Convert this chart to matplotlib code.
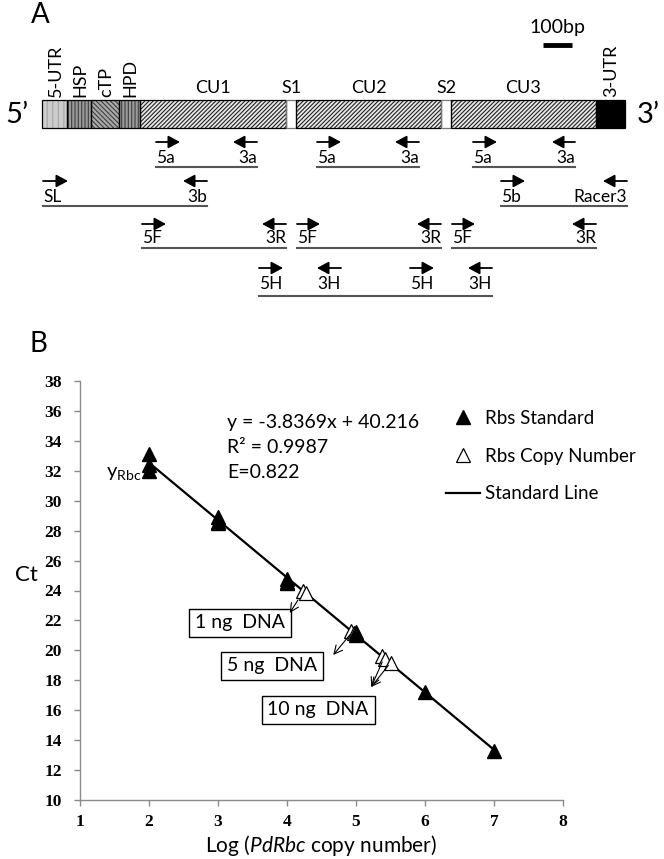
import matplotlib
matplotlib.use("Agg")
import matplotlib.pyplot as plt
from matplotlib.patches import Rectangle, FancyArrowPatch
from matplotlib.lines import Line2D
import numpy as np

plt.rcParams['font.family'] = ['Lato', 'DejaVu Sans']
plt.rcParams['mathtext.fontset'] = 'custom'
plt.rcParams['mathtext.rm'] = 'Lato'
plt.rcParams['mathtext.it'] = 'Lato:italic'
plt.rcParams['hatch.linewidth'] = 0.8

# ---------------- Panel A data (schematic units) ----------------
seg_names = ['5-UTR', 'HSP', 'cTP', 'HPD', 'CU1', 'S1', 'CU2', 'S2', 'CU3', '3-UTR']
seg_starts = [42, 67, 91, 119, 140, 286, 296, 441, 451, 596]
seg_ends = [67, 91, 119, 140, 286, 296, 441, 451, 596, 625]
seg_vertical = [True, True, True, True, False, False, False, False, False, True]

# primer arrows: tail x, head x, row, name
primer_tail = [156, 257, 317, 419, 473, 575,
               43, 207, 501, 627,
               142, 286, 297, 441, 452, 596,
               259, 341, 410, 492]
primer_head = [180, 233, 341, 395, 497, 552,
               68, 183, 525, 603,
               166, 262, 320, 417, 475, 572,
               283, 317, 434, 468]
primer_row = [0, 0, 0, 0, 0, 0,
              1, 1, 1, 1,
              2, 2, 2, 2, 2, 2,
              3, 3, 3, 3]
primer_name = ['5a', '3a', '5a', '3a', '5a', '3a',
               'SL', '3b', '5b', 'Racer3',
               '5F', '3R', '5F', '3R', '5F', '3R',
               '5H', '3H', '5H', '3H']
# amplicon lines
amp_start = [156, 317, 473, 43, 501, 142, 297, 452, 259]
amp_end = [257, 419, 575, 207, 627, 286, 441, 596, 492]
amp_row = [0, 0, 0, 1, 1, 2, 2, 2, 3]

# ---------------- Panel B data ----------------
std_x = [2, 2, 2, 3, 3, 3, 4, 4, 4, 5, 5, 6, 7]
std_ct = [33.1, 32.4, 32.0, 28.9, 28.6, 28.5, 24.8, 24.6, 24.5, 21.2, 21.0, 17.2, 13.3]
copy_x = [4.23, 4.28, 4.93, 4.97, 5.37, 5.42, 5.50]
copy_ct = [23.95, 23.8, 21.3, 21.15, 19.6, 19.4, 19.15]
fit_slope = -3.8369
fit_intercept = 40.216
fit_range = [2, 7]
box_labels = ['1 ng  DNA', '5 ng  DNA', '10 ng  DNA']
box_x = [3.32, 3.78, 4.45]
box_y = [21.83, 18.96, 16.02]
arrow_from = [(4.16, 23.37), (4.91, 21.03), (5.38, 19.22), (5.47, 19.0)]
arrow_to = [(4.04, 22.5), (4.67, 19.69), (5.22, 17.55), (5.22, 17.55)]

W, H = 664, 859
fig = plt.figure(figsize=(6.64, 8.59), dpi=100)

# ---------------- Panel A ----------------
axA = fig.add_axes([0, 0, 1, 1])
axA.set_xlim(0, W)
axA.set_ylim(H, 0)
axA.axis('off')
axA.patch.set_visible(False)

LBL = 12.5
bar_top, bar_bot = 100, 128
styles = {
    '5-UTR': ('#cdcdcd', '|||', '#a5a5a5'),
    'HSP': ('#9a9a9a', '|||||', '#404040'),
    'cTP': ('#a8a8a8', '\\\\\\\\\\\\\\', '#404040'),
    'HPD': ('#9a9a9a', '|||||', '#404040'),
    'CU1': ('#e8e8e8', '////////', '#222222'),
    'CU2': ('#e8e8e8', '////////', '#222222'),
    'CU3': ('#e8e8e8', '////////', '#222222'),
    'S1': ('#ffffff', None, None),
    'S2': ('#ffffff', None, None),
    '3-UTR': ('#000000', None, None),
}
for name, s, e, vert in zip(seg_names, seg_starts, seg_ends, seg_vertical):
    fc, hatch, hc = styles[name]
    axA.add_patch(Rectangle((s, bar_top), e - s, bar_bot - bar_top, facecolor=fc,
                            edgecolor='none', zorder=2))
    if hatch:
        axA.add_patch(Rectangle((s, bar_top), e - s, bar_bot - bar_top, facecolor='none',
                                edgecolor=hc, hatch=hatch, lw=0, zorder=3))
    ec = '#777777' if name.startswith('S') else 'black'
    axA.add_patch(Rectangle((s, bar_top), e - s, bar_bot - bar_top, facecolor='none',
                            edgecolor=ec, lw=0.9, zorder=4))
    cx = (s + e) / 2
    if vert:
        axA.text(cx + 1, 97, name, rotation=90, ha='center', va='bottom', fontsize=13)
    else:
        axA.text(cx, 93, name, ha='center', va='baseline', fontsize=13)

axA.text(17, 115, "5\u2019", ha='center', va='center', fontsize=21)
axA.text(648, 115, "3\u2019", ha='center', va='center', fontsize=21)
axA.text(40, 15, 'A', ha='center', va='center', fontsize=20)
axA.text(557, 27, '100bp', ha='center', va='center', fontsize=14)
axA.plot([543, 572], [45, 45], color='black', lw=3.5, solid_capstyle='butt')

row_arrow_y = [142, 181, 224, 268]
row_label_base = [163, 202, 243, 289]
row_line_y = [167, 206, 248, 296]

for t, h, r, n in zip(primer_tail, primer_head, primer_row, primer_name):
    y = row_arrow_y[r]
    axA.add_patch(FancyArrowPatch((t, y), (h, y), arrowstyle='-|>,head_length=0.5,head_width=0.27',
                                  mutation_scale=14, color='black', lw=1.3,
                                  shrinkA=0, shrinkB=0))
    ha = 'left' if h > t else 'right'
    axA.text(t, row_label_base[r], n, ha=ha, va='baseline', fontsize=LBL)

for s, e, r in zip(amp_start, amp_end, amp_row):
    axA.plot([s, e], [row_line_y[r]] * 2, color='#555555', lw=1.5)

axA.text(38, 344, 'B', ha='center', va='center', fontsize=20)
axA.text(26, 575, 'Ct', ha='center', va='center', fontsize=16)

# ---------------- Panel B ----------------
L, R, T, Bt = 80, 563, 381, 800
axB = fig.add_axes([L / W, (H - Bt) / H, (R - L) / W, (Bt - T) / H])
axB.set_xlim(1, 8)
axB.set_ylim(10, 38)
axB.set_xticks(range(1, 9))
axB.set_yticks(range(10, 39, 2))
for sp in ['top', 'right']:
    axB.spines[sp].set_visible(False)
for sp in ['left', 'bottom']:
    axB.spines[sp].set_color('#8a8a8a')
    axB.spines[sp].set_linewidth(1.0)
axB.tick_params(axis='both', direction='out', length=4, width=1, color='#8a8a8a')
axB.tick_params(axis='y', pad=9)
axB.tick_params(axis='x', pad=6)
for lab in axB.get_xticklabels() + axB.get_yticklabels():
    lab.set_fontfamily('Liberation Serif')
    lab.set_fontweight('bold')
    lab.set_fontsize(12.5)

fx = np.array(fit_range, dtype=float)
axB.plot(fx, fit_slope * fx + fit_intercept, color='black', lw=1.6, zorder=2,
         label='Standard Line')
axB.plot(std_x, std_ct, linestyle='none', marker='^', ms=10, color='black',
         mec='black', zorder=4, label='Rbs Standard')
axB.plot(copy_x, copy_ct, linestyle='none', marker='^', ms=9.5, mfc='white',
         mec='black', mew=0.9, zorder=3, label='Rbs Copy Number')

for (x0, y0), (x1, y1) in zip(arrow_from, arrow_to):
    axB.annotate('', xy=(x1, y1), xytext=(x0, y0),
                 arrowprops=dict(arrowstyle='->,head_length=0.6,head_width=0.3',
                                 color='black', lw=0.8, shrinkA=0, shrinkB=0), zorder=5)

for lab, bx, by in zip(box_labels, box_x, box_y):
    axB.text(bx, by, lab, ha='center', va='center', fontsize=14,
             bbox=dict(boxstyle='square,pad=0.3', facecolor='white', edgecolor='black', lw=1))

TXT = 14
eq_text = 'y = %.4fx + %.3f' % (fit_slope, fit_intercept)
axB.text(3.13, 35.2, eq_text, ha='left', va='center', fontsize=TXT)
axB.text(3.13, 33.55, 'R\u00b2 = 0.9987', ha='left', va='center', fontsize=TXT)
axB.text(3.13, 31.9, 'E=0.822', ha='left', va='center', fontsize=TXT)
axB.text(1.37, 31.8, r'y$_{\mathrm{Rbc}}$', ha='left', va='center', fontsize=14.5)

h_line = Line2D([], [], color='black', lw=1.6)
h_std = Line2D([], [], linestyle='none', marker='^', ms=10, color='black')
h_copy = Line2D([], [], linestyle='none', marker='^', ms=9.5, mfc='white', mec='black', mew=0.9)
axB.legend([h_std, h_copy, h_line], ['Rbs Standard', 'Rbs Copy Number', 'Standard Line'],
           loc='upper left', bbox_to_anchor=((446 - L) / (R - L), (Bt - 410) / (Bt - T)),
           frameon=False, fontsize=13.5, borderpad=0, borderaxespad=0,
           handlelength=1.8, handletextpad=0.3, labelspacing=1.1)

fig.text(321 / W, 1 - 846 / H, r'Log ($\mathit{PdRbc}$ copy number)', ha='center', va='center',
         fontsize=15)

fig.savefig('out.png', dpi=100)
